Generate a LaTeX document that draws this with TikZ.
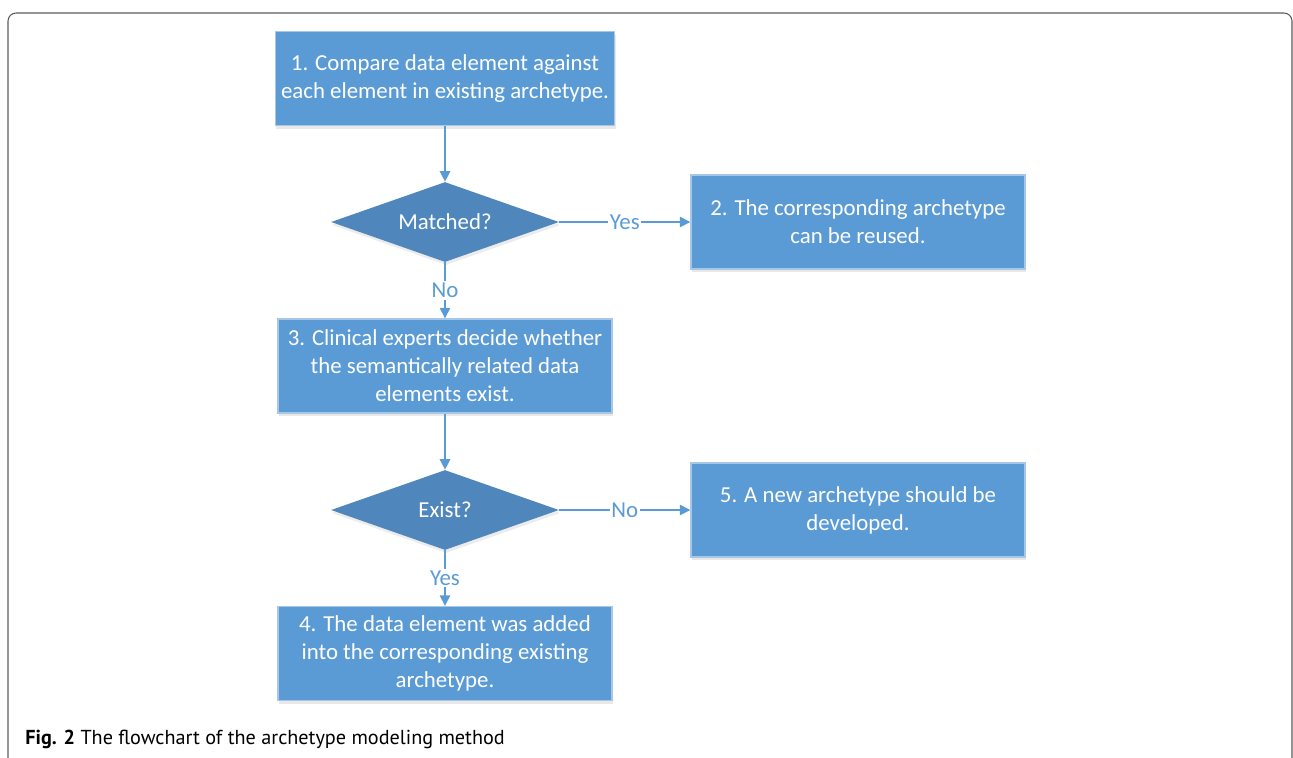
\documentclass[tikz,border=0pt]{standalone}
\usepackage{fontspec}
\setmainfont{Carlito}
\newfontfamily\capfont{PT Sans}
\usepackage{tikz}
\usetikzlibrary{shapes.geometric,arrows.meta,shadows}
\definecolor{boxblue}{HTML}{5B9BD5}
\definecolor{diablue}{HTML}{4F87BD}
\definecolor{rimblue}{HTML}{A7C7E7}
\definecolor{lineblue}{HTML}{5B9BD5}
\definecolor{framegray}{HTML}{5A5A5A}

\begin{document}
\begin{tikzpicture}[
		stepbox/.style={shape=rectangle,fill=boxblue,draw=rimblue,line width=0.8pt,text=white,align=center,minimum width=6.68cm,minimum height=1.88cm,font=\fontsize{13}{15.9}\selectfont,drop shadow={opacity=0.18,shadow xshift=0.02cm,shadow yshift=-0.06cm}},
		decision/.style={shape=diamond,aspect=2.85,fill=diablue,text=white,inner sep=0pt,minimum width=4.56cm,minimum height=1.6cm,font=\fontsize{13}{15.9}\selectfont,drop shadow={opacity=0.15,shadow xshift=0.02cm,shadow yshift=-0.06cm}},
		flow/.style={draw=lineblue,line width=0.85pt,-{Triangle[width=6pt,length=6pt]}},
		answer/.style={fill=white,text=lineblue,inner sep=1pt,font=\fontsize{13}{15.9}\selectfont}
	]
			\useasboundingbox (0,0) rectangle (25.86,-15.14);
			\draw[framegray,line width=0.6pt,rounded corners=0.16cm] (0.16,-15.3) -- (0.16,-0.26) -- (25.84,-0.26) -- (25.84,-15.3);
			
			\node[stepbox] (1) at (8.9,-1.57) {1. Compare data element against\\each element in existing archetype.};
			\node[decision] (m) at (8.9,-4.44) {Matched?};
			\node[stepbox] (2) at (17.16,-4.44) {2. The corresponding archetype\\can be reused.};
			\node[stepbox] (3) at (8.9,-7.32) {3. Clinical experts decide whether\\the semantically related data\\elements exist.};
			\node[decision] (e) at (8.9,-10.2) {Exist?};
			\node[stepbox] (5) at (17.16,-10.2) {5. A new archetype should be\\developed.};
			\node[stepbox] (4) at (8.9,-13.07) {4. The data element was added\\into the corresponding existing\\archetype.};
			
			\draw[flow] (1) -- (m);
			\draw[flow] (m) -- node[answer] {Yes} (2);
			\draw[flow] (m) -- node[answer] {No} (3);
			\draw[flow] (3) -- (e);
			\draw[flow] (e) -- node[answer] {No} (5);
			\draw[flow] (e) -- node[answer] {Yes} (4);
			
			\node[anchor=west,inner sep=0pt,font=\capfont\fontsize{11.5}{14}\selectfont] (cap) at (0.5,-14.78) {\textbf{Fig. 2} The flowchart of the archetype modeling method};
		\end{tikzpicture}
\end{document}
